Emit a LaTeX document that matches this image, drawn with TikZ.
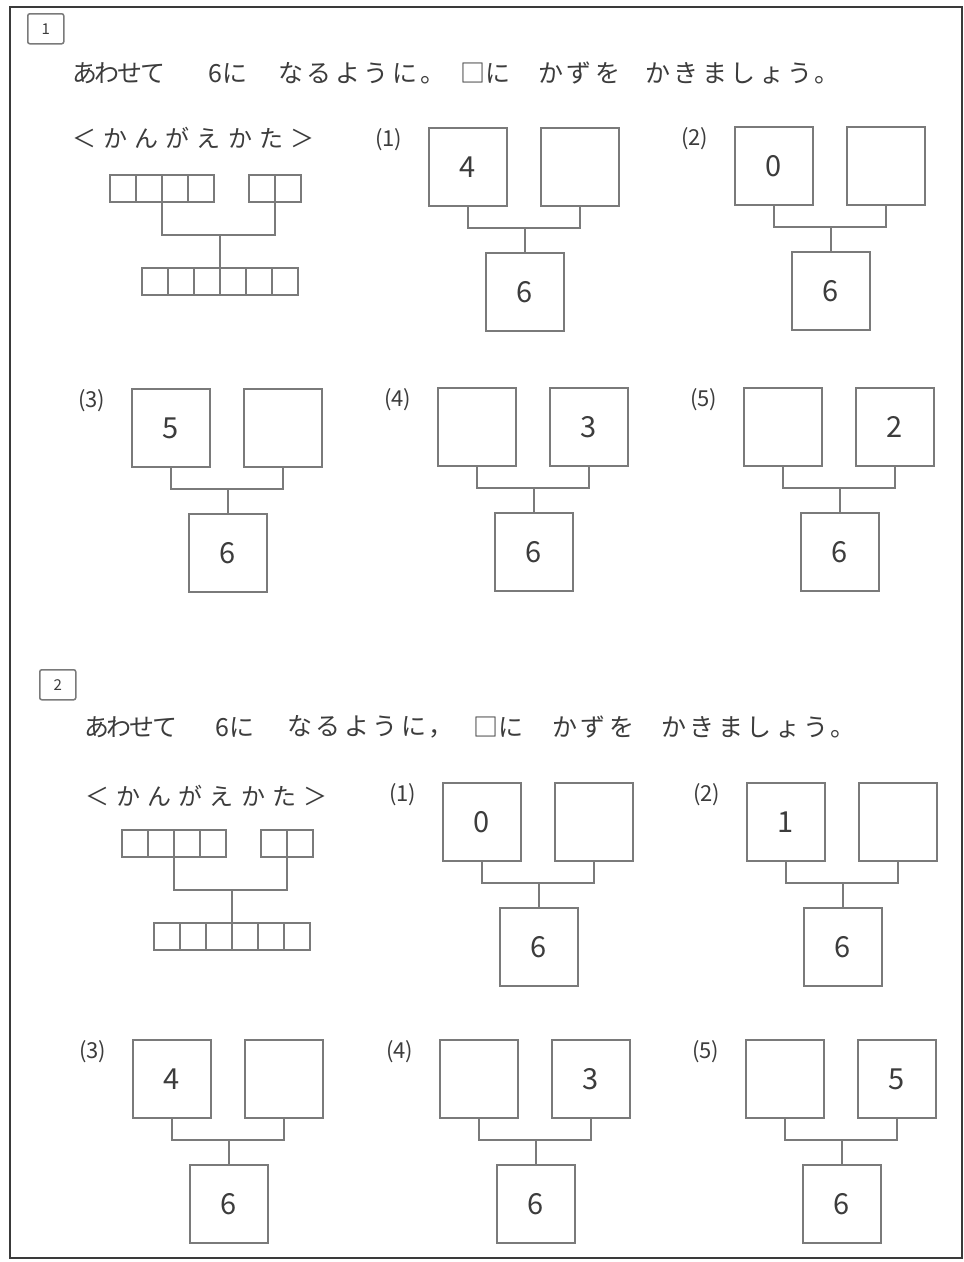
\documentclass[tikz,border=0pt]{standalone}
\usepackage{fontspec}
\setmainfont{Noto Sans CJK JP}
\usetikzlibrary{calc}
\definecolor{ink}{HTML}{3C3C3C}
\definecolor{lin}{HTML}{7A7A7A}
\definecolor{frm}{HTML}{3A3A3A}
\tikzset{
  numbox/.style={draw=lin, line width=1.6pt, minimum width=78pt, minimum height=78pt,
    inner sep=0pt, outer sep=0pt, anchor=north west, font=\fontsize{29}{29}\selectfont, text=ink},
  cell/.style={draw=lin, line width=1.3pt, minimum width=26pt, minimum height=27pt,
    inner sep=0pt, outer sep=0pt, anchor=north west},
  link/.style={draw=lin, line width=1.6pt},
  plabel/.style={font=\fontsize{22}{22}\selectfont, text=ink, anchor=west, inner sep=0pt},
  titletext/.style={font=\fontsize{25}{25}\selectfont, text=ink, anchor=west, inner sep=0pt},
  narrow/.style={font=\fontsize{25}{25}\selectfont\addfontfeature{LetterSpace=-9}},
  wide/.style={font=\fontsize{25}{25}\selectfont\addfontfeature{LetterSpace=14}},
  hinttext/.style={font=\fontsize{24}{24}\selectfont\addfontfeature{LetterSpace=30}, text=ink, anchor=west, inner sep=0pt},
  secbox/.style={draw=lin, line width=1.5pt, rounded corners=2pt, minimum width=36pt, minimum height=30pt,
    inner sep=0pt, anchor=north west, font=\fontsize{15}{15}\selectfont, text=ink},
  frame/.style={draw=frm, line width=2pt}
}
\newcommand{\mkprob}[6]{%
  \node[numbox] (#1l) at (#2,#3) {#5};
  \node[numbox] (#1r) at (#2+112,#3) {#6};
  \node[numbox] (#1b) at (#2+57,#3+125) {6};
  \coordinate (#1m) at ($(#1b.north)+(0,-25)$);
  \draw[link] (#1l.south) |- (#1m) -| (#1r.south);
  \draw[link] (#1m) -- (#1b.north);
  \node[plabel] (#1t) at (#2-54,#3+12) {(#4)};
}
\newcommand{\mkhint}[3]{%
  \foreach \i in {0,...,3} \node[cell] (#1a\i) at (#2+\i*26,#3) {};
  \foreach \i in {0,1} \node[cell] (#1b\i) at (#2+139+\i*26,#3) {};
  \foreach \i in {0,...,5} \node[cell] (#1c\i) at (#2+32+\i*26,#3+93) {};
  \coordinate (#1m) at (#2+110,#3+60);
  \draw[link] (#1a1.south east) |- (#1m) -| (#1b0.south east);
  \draw[link] (#1m) -- (#1c2.north east);
}
\begin{document}
\begin{tikzpicture}[x=1pt,y=-1pt]
\useasboundingbox (0,0) rectangle (964,1262);
\fill[white] (0,0) rectangle (964,1262);
\draw[frame] (10,7) rectangle (962,1258);

% ---------- section 1 ----------
\node[secbox] (s1) at (27,13) {1};
\node[titletext,narrow] (t1a) at (72,73) {あわせて};
\node[titletext] (t1b) at (208,73) {6に};
\node[titletext,wide] (t1c) at (278,73) {なるように。};
\node[titletext] (t1d) at (460,73) {□に};
\node[titletext,wide] (t1e) at (538,73) {かずを};
\node[titletext,wide] (t1f) at (645,73) {かきましょう。};

\node[hinttext] (h1t) at (72,138) {＜かんがえかた＞};
\mkhint{h1}{110}{175}

\mkprob{pa}{429}{128}{1}{4}{}
\mkprob{pb}{735}{127}{2}{0}{}
\mkprob{pc}{132}{389}{3}{5}{}
\mkprob{pd}{438}{388}{4}{}{3}
\mkprob{pe}{744}{388}{5}{}{2}

% ---------- section 2 ----------
\node[secbox] (s2) at (39,669) {2};
\node[titletext,narrow] (t2a) at (84,727) {あわせて};
\node[titletext] (t2b) at (215,727) {6に};
\node[titletext,wide] (t2c) at (287,727) {なるように，};
\node[titletext] (t2d) at (473,727) {□に};
\node[titletext,wide] (t2e) at (552,727) {かずを};
\node[titletext,wide] (t2f) at (661,727) {かきましょう。};

\node[hinttext] (h2t) at (85,796) {＜かんがえかた＞};
\mkhint{h2}{122}{830}

\mkprob{qa}{443}{783}{1}{0}{}
\mkprob{qb}{747}{783}{2}{1}{}
\mkprob{qc}{133}{1040}{3}{4}{}
\mkprob{qd}{440}{1040}{4}{}{3}
\mkprob{qe}{746}{1040}{5}{}{5}
\end{tikzpicture}
\end{document}
